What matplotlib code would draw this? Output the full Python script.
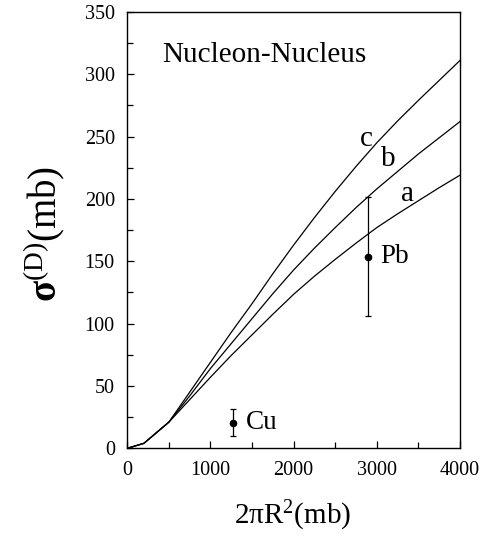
import matplotlib
matplotlib.use("Agg")
import matplotlib.pyplot as plt
from matplotlib.ticker import MultipleLocator

plt.rcParams['font.family'] = ['Liberation Serif', 'DejaVu Serif']
plt.rcParams['mathtext.fontset'] = 'custom'
plt.rcParams['mathtext.rm'] = 'Liberation Serif'
plt.rcParams['mathtext.it'] = 'Liberation Serif:italic'
plt.rcParams['mathtext.bf'] = 'Liberation Serif:bold'

# Data
x_vals = [0, 200, 500, 750, 1000, 1250, 1500, 1750, 2000, 2250, 2500,
          2750, 3000, 3250, 3500, 3750, 4000]
curve_a = [0, 4, 21, 39, 57, 74.5, 91, 107.5, 123.5, 138, 151.5,
           164.5, 177, 188, 198.5, 209, 219]
curve_b = [0, 4, 21, 42, 64, 84, 104, 124, 143, 160.5, 177,
           193, 208, 222, 236, 249, 262]
curve_c = [0, 4, 21, 45, 69, 93, 116, 140, 163, 185, 206,
           226, 245, 262.5, 279, 295, 311]

curve_labels = ['a', 'b', 'c']
curve_label_x = [3370, 3140, 2870]
curve_label_y = [204, 232, 248]

points_name = ['Cu', 'Pb']
points_x = [1273, 2895]
points_y = [20.5, 153.7]
points_err = [11, 48]
points_label_x = [1420, 3040]

fig = plt.figure(figsize=(4.85, 5.46), dpi=100)
ax = fig.add_axes([127.3/485, 1-448.3/546, 332.7/485, 436.5/546])

for ys in (curve_a, curve_b, curve_c):
    ax.plot(x_vals, ys, color='black', lw=0.9)

for lab, lx, ly in zip(curve_labels, curve_label_x, curve_label_y):
    ax.text(lx, ly, lab, fontsize=21, ha='center', va='center')

ax.errorbar(points_x, points_y, yerr=points_err, fmt='o', color='black',
            ms=4.5, elinewidth=0.9, capsize=2.5, capthick=0.9)
for name, lx, py in zip(points_name, points_label_x, points_y):
    ax.text(lx, py, name, fontsize=19.5, ha='left', va='center')

ax.text(0.104, 0.90, 'Nucleon-Nucleus', transform=ax.transAxes,
        fontsize=21, ha='left', va='center')

ax.set_xlim(0, 4000)
ax.set_ylim(0, 350)
ax.xaxis.set_major_locator(MultipleLocator(1000))
ax.xaxis.set_minor_locator(MultipleLocator(500))
ax.yaxis.set_major_locator(MultipleLocator(50))
ax.yaxis.set_minor_locator(MultipleLocator(25))
ax.tick_params(which='both', direction='in', top=False, right=False,
               width=0.9, labelsize=14.5, pad=9)
ax.tick_params(which='major', length=5)
ax.tick_params(which='minor', length=4.5)
for s in ax.spines.values():
    s.set_linewidth(1.0)

fig.text(45/485, 1-234/546, r'$\mathbf{\sigma}^{\mathrm{(D)}}\mathrm{(mb)}$',
         rotation=90, ha='center', va='center', fontsize=28)
fig.text(293/485, 1-516/546, r'$\mathrm{2\pi R}^{2}\mathrm{(mb)}$',
         ha='center', va='center', fontsize=21)

fig.savefig('out.png', dpi=100)
